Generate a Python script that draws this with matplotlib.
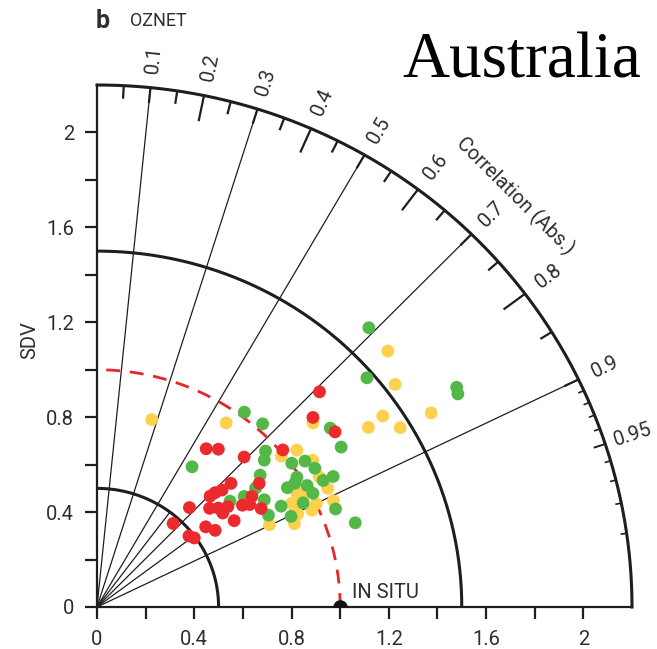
import numpy as np
import matplotlib
matplotlib.use("Agg")
import matplotlib.pyplot as plt

#%% values (x = SDV*corr, y = SDV*sqrt(1-corr^2))
red_x = [0.915, 0.888, 0.979, 0.449, 0.499, 0.605, 0.764, 0.667, 0.551, 0.514,
         0.486, 0.465, 0.463, 0.499, 0.538, 0.517, 0.637, 0.598, 0.628, 0.675,
         0.564, 0.380, 0.313, 0.447, 0.486, 0.378, 0.400]
red_y = [0.907, 0.799, 0.738, 0.667, 0.665, 0.632, 0.662, 0.521, 0.521, 0.493,
         0.482, 0.467, 0.416, 0.417, 0.423, 0.396, 0.466, 0.429, 0.432, 0.415,
         0.364, 0.419, 0.352, 0.338, 0.323, 0.299, 0.291]

green_x = [1.118, 1.110, 1.479, 1.484, 0.959, 1.004, 0.606, 0.681, 0.391, 0.693,
           0.688, 0.801, 0.855, 0.896, 0.671, 0.971, 0.930, 0.822, 0.783, 0.813,
           0.864, 0.888, 0.848, 0.981, 0.757, 0.798, 1.062, 0.605, 0.547, 0.688,
           0.705, 0.652]
green_y = [1.177, 0.966, 0.926, 0.898, 0.754, 0.674, 0.821, 0.772, 0.591, 0.657,
           0.619, 0.606, 0.615, 0.585, 0.556, 0.550, 0.533, 0.547, 0.503, 0.521,
           0.512, 0.479, 0.439, 0.413, 0.425, 0.382, 0.355, 0.466, 0.446, 0.452,
           0.387, 0.501]

yellow_x = [1.196, 1.226, 0.888, 1.175, 1.116, 1.247, 1.374, 0.225, 0.531, 0.822,
            0.758, 0.887, 0.914, 0.949, 0.822, 0.972, 0.884, 0.902, 0.800, 0.815,
            0.825, 0.812, 0.709, 0.846]
yellow_y = [1.079, 0.938, 0.776, 0.805, 0.757, 0.756, 0.818, 0.790, 0.776, 0.661,
            0.636, 0.619, 0.549, 0.500, 0.479, 0.448, 0.408, 0.435, 0.437, 0.408,
            0.392, 0.351, 0.347, 0.481]

corr_labels = [0.1, 0.2, 0.3, 0.4, 0.5, 0.6, 0.7, 0.8, 0.9, 0.95]
sdv_ticks = [0, 0.4, 0.8, 1.2, 1.6, 2]

RMAX = 2.2
ink = '#1e1e1e'
txt = '#2e2e2e'
fs = 14.5
plt.rcParams['font.family'] = ['Roboto', 'DejaVu Sans']

#%%
fig = plt.figure(figsize=(6.57, 6.49), dpi=100)
ax = fig.add_axes([97/657, 42/649, 535/657, 522/649])
ax.set_xlim(0, RMAX)
ax.set_ylim(0, RMAX)
for s in ['top', 'right']:
    ax.spines[s].set_visible(False)
for s in ['left', 'bottom']:
    ax.spines[s].set_linewidth(1.6)
    ax.spines[s].set_color(ink)

tk = np.round(np.arange(0, 2.01, 0.2), 1)
lab = [('%g' % v) if np.any(np.isclose(v, sdv_ticks)) else '' for v in tk]
ax.set_xticks(tk)
ax.set_xticklabels(lab)
ax.set_yticks(tk)
ax.set_yticklabels(lab)
ax.tick_params(direction='out', length=8.5, width=1.6, color=ink, pad=8,
               labelsize=fs, labelcolor=txt)

th = np.linspace(0, np.pi/2, 300)
# SDV arcs
for r in [0.5, 1.5]:
    ax.plot(r*np.cos(th), r*np.sin(th), color=ink, lw=2.2, zorder=2)
ax.plot(RMAX*np.cos(th), RMAX*np.sin(th), color=ink, lw=2.2, clip_on=False, zorder=2)
# reference circle
ax.plot(np.cos(th), np.sin(th), color='#e8242c', lw=2.0, ls=(0, (5, 3.5)), zorder=2)

# radial correlation lines
for c in [0.1, 0.3, 0.5, 0.7, 0.9]:
    a = np.arccos(c)
    ax.plot([0, RMAX*np.cos(a)], [0, RMAX*np.sin(a)], color=ink, lw=0.9, zorder=1)
for c in [0.6, 0.8]:
    a = np.arccos(c)
    ax.plot([0, 0.5*np.cos(a)], [0, 0.5*np.sin(a)], color=ink, lw=0.9, zorder=1)

# ticks on the correlation arc
def ctick(c, ln, lw):
    a = np.arccos(c)
    ax.plot([(RMAX-ln)*np.cos(a), RMAX*np.cos(a)], [(RMAX-ln)*np.sin(a), RMAX*np.sin(a)],
            color=ink, lw=lw, clip_on=False, solid_capstyle='butt', zorder=2)

for c in np.arange(0.05, 0.9, 0.1):
    ctick(c, 0.055, 1.6)
for c in [0.2, 0.4, 0.6, 0.8]:
    ctick(c, 0.11, 1.6)
for c in [0.1, 0.3, 0.5, 0.7, 0.9]:
    ctick(c, 0.065, 1.6)
for c in [0.91, 0.92, 0.93, 0.94, 0.96, 0.97, 0.98, 0.99]:
    ctick(c, 0.025, 1.2)
ctick(0.95, 0.05, 1.4)

for c in corr_labels:
    a = np.arccos(c)
    ax.text(2.32*np.cos(a), 2.32*np.sin(a), '%g' % c, rotation=np.degrees(a),
            rotation_mode='anchor', ha='center', va='center', fontsize=fs,
            color=txt, clip_on=False)
ax.text(2.44*np.cos(np.radians(45.2)), 2.44*np.sin(np.radians(45.2)), 'Correlation (Abs.)',
        rotation=-44.8, rotation_mode='anchor', ha='center', va='center',
        fontsize=fs, color=txt)

#%% points
ax.scatter(yellow_x, yellow_y, s=85, color='#fdd04e', edgecolors='none', zorder=3)
ax.scatter(green_x, green_y, s=85, color='#52b848', edgecolors='none', zorder=4)
ax.scatter(red_x, red_y, s=85, color='#ec2a2e', edgecolors='none', zorder=5)

# reference point
ax.scatter([1.0], [0.0], s=90, color='#111111', zorder=6)
ax.text(1.05, 0.06, 'IN SITU', fontsize=fs, color=txt, va='center', ha='left')

fig.text(30/657, 1-340/649, 'SDV', rotation=90, ha='center', va='center',
         fontsize=fs, color=txt)
fig.text(96/657, 1-21/649, 'b', fontweight='bold', fontsize=18, color=txt,
         ha='left', va='center')
fig.text(130/657, 1-21/649, 'OZNET', fontsize=13, color=txt, ha='left', va='center')
fig.text(641/657, 1-78/649, 'Australia', family='Liberation Serif', fontsize=47,
         ha='right', va='baseline', color='black')

fig.savefig('out.png', dpi=100)
